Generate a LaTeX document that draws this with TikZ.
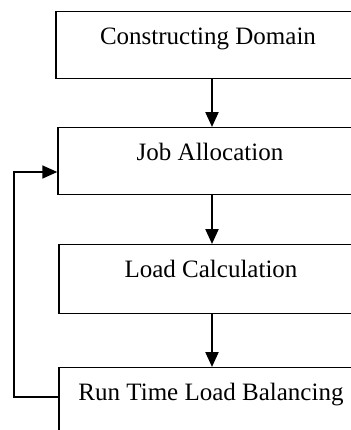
\documentclass[tikz,border=0pt]{standalone}
\usepackage{fontspec}
\setmainfont{Liberation Serif}
\usetikzlibrary{arrows.meta}
\begin{document}
\begin{tikzpicture}[x=0.5pt,y=-0.5pt,
  stepbox/.style={draw,line width=0.7pt,rectangle,inner sep=0pt,minimum width=152pt,
    text height=16.5pt,text depth=17pt,anchor=north,font=\fontsize{12.5}{14}\selectfont},
  arr/.style={line width=1.1pt,-{Triangle[length=7.5pt,width=6.5pt]}},
  fb/.style={line width=0.8pt,-{Triangle[length=7.5pt,width=6.5pt]}}]
\useasboundingbox (0,0) rectangle (351,430);
\begin{scope}
\clip (0,0) rectangle (351,430);
\node[stepbox,text depth=17pt] (b1) at (208,11) {Constructing Domain};
\node[stepbox] (b2) at (210,127) {Job Allocation};
\node[stepbox,text depth=18pt] (b3) at (211,244) {Load Calculation};
\node[stepbox,text depth=18pt] (b4) at (211,367) {Run Time Load Balancing};
\coordinate (ax) at (212,0);
\draw[arr] (b1.south -| ax) -- (b2.north -| ax);
\draw[arr] (b2.south -| ax) -- (b3.north -| ax);
\draw[arr] (b3.south -| ax) -- (b4.north -| ax);
\draw[fb] ([yshift=-15pt]b4.north west) -- ++(-44,0) |- ([yshift=-22.5pt]b2.north west);
\end{scope}
\end{tikzpicture}
\end{document}
